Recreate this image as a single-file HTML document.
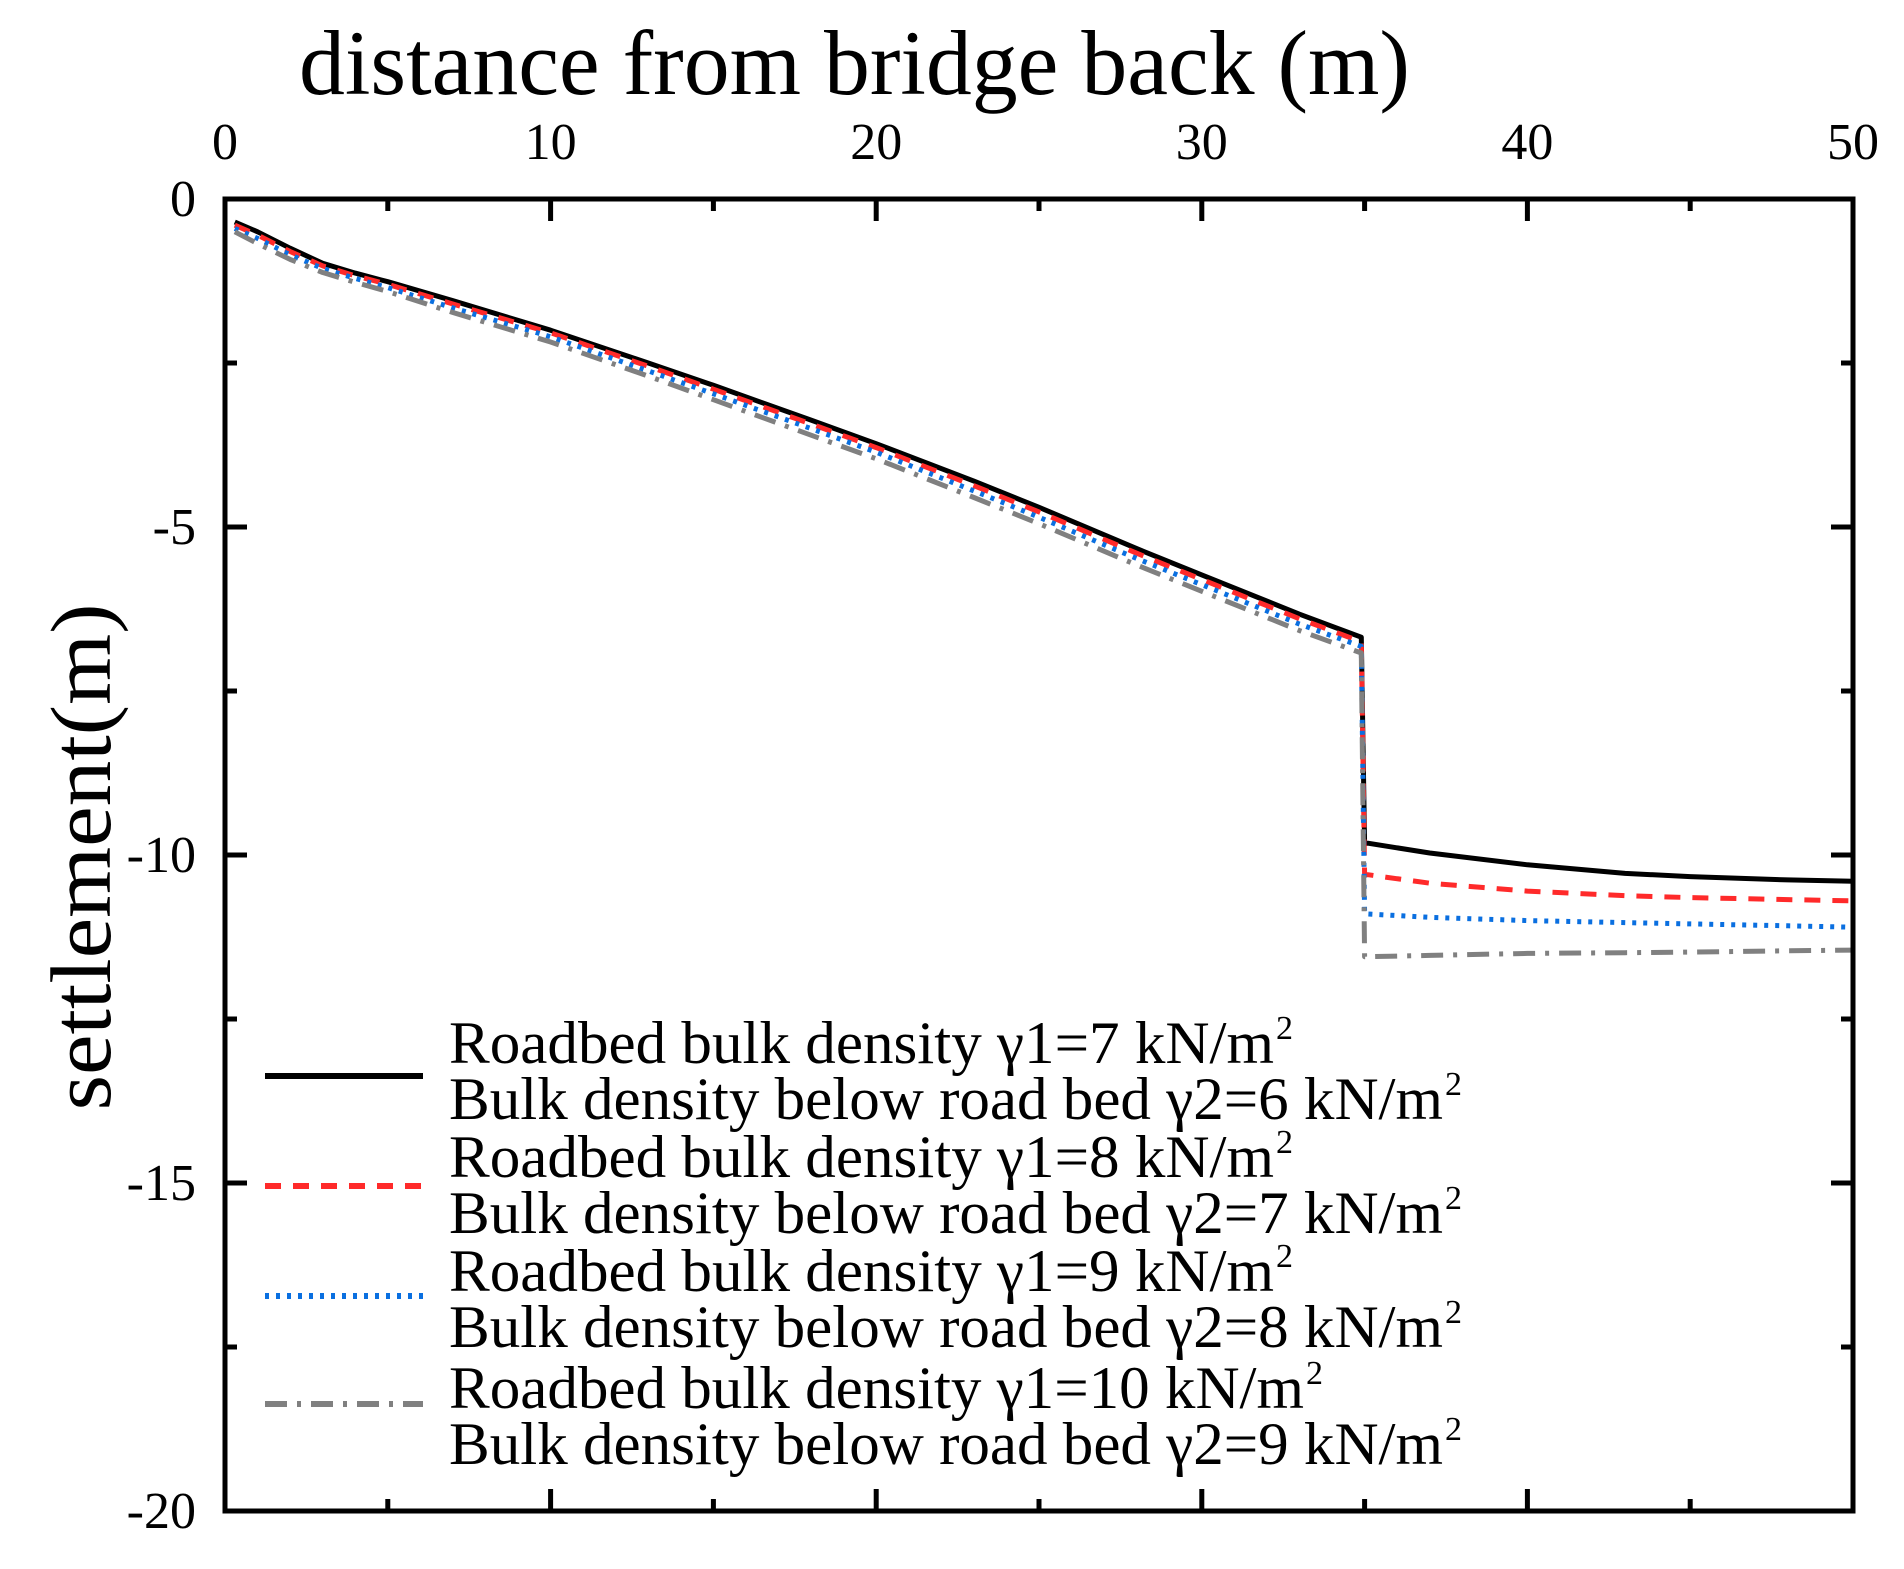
<!DOCTYPE html>
<html><head><meta charset="utf-8"><style>
html,body{margin:0;padding:0;background:#fff;}
svg{display:block;font-family:"Liberation Serif",serif;}
</style></head><body>
<svg id="chart" width="1904" height="1569" viewBox="0 0 1904 1569" xmlns="http://www.w3.org/2000/svg">
<text x="299" y="94" font-size="92" textLength="1111" lengthAdjust="spacingAndGlyphs">distance from bridge back (m)</text>
<text transform="translate(110,857) rotate(-90)" text-anchor="middle" font-size="86" textLength="507" lengthAdjust="spacingAndGlyphs">settlement(m)</text>
<g id="ticks"></g>
<g id="series"></g>
<rect x="225" y="199" width="1628" height="1312" fill="none" stroke="#000" stroke-width="5"/>
<g id="legend"></g>
</svg>
<script>
const xTicks=[0,10,20,30,40,50];
const yTicks=[0,-5,-10,-15,-20];
const xs=[0.3,1,2,3,4,5,7,10,13,15,18,20,23,25,28,30,33,34.9,35,35.1,37,40,43,45,48,50];
const s1=[-0.35,-0.5,-0.75,-0.98,-1.13,-1.26,-1.55,-2.0,-2.5,-2.84,-3.37,-3.73,-4.3,-4.7,-5.33,-5.73,-6.33,-6.68,-9.82,-9.82,-9.97,-10.15,-10.28,-10.33,-10.38,-10.4];
const s2=[-0.4,-0.55,-0.8,-1.02,-1.17,-1.3,-1.6,-2.04,-2.55,-2.9,-3.43,-3.79,-4.37,-4.77,-5.4,-5.8,-6.4,-6.75,-10.3,-10.3,-10.43,-10.55,-10.62,-10.65,-10.68,-10.7];
const s3=[-0.45,-0.6,-0.85,-1.06,-1.21,-1.35,-1.66,-2.1,-2.62,-2.97,-3.5,-3.86,-4.45,-4.85,-5.48,-5.88,-6.48,-6.82,-10.9,-10.9,-10.95,-11.0,-11.03,-11.05,-11.08,-11.1];
const s4=[-0.5,-0.68,-0.92,-1.12,-1.27,-1.41,-1.73,-2.18,-2.7,-3.06,-3.6,-3.96,-4.55,-4.95,-5.58,-5.98,-6.58,-6.92,-11.55,-11.55,-11.53,-11.5,-11.49,-11.48,-11.46,-11.45];
const seriesColors=["#000","#ff2a2a","#0a6fe0","#808080"];
const L=225,R=1853,T=199,B=1511;
const X=v=>L+(v-0)/(50-0)*(R-L);
const Y=v=>T+(0-v)/(0+20)*(B-T);
const NS="http://www.w3.org/2000/svg";
function mk(tag,attrs,parent){const e=document.createElementNS(NS,tag);for(const k in attrs)e.setAttribute(k,attrs[k]);parent.appendChild(e);return e;}
const tg=document.getElementById('ticks');
for(let v=0;v<=50;v+=5){
  const len=(v%10===0)?22:12;
  let e=mk('line',{x1:X(v),x2:X(v),y1:T,y2:T+len,stroke:'#000','stroke-width':5},tg);
  
  e=mk('line',{x1:X(v),x2:X(v),y1:B,y2:B-len,stroke:'#000','stroke-width':5},tg);
  
}
for(let v=0;v>=-20;v-=2.5){
  const len=(v%5===0)?22:12;
  let e=mk('line',{x1:L,x2:L+len,y1:Y(v),y2:Y(v),stroke:'#000','stroke-width':5},tg);
  
  e=mk('line',{x1:R,x2:R-len,y1:Y(v),y2:Y(v),stroke:'#000','stroke-width':5},tg);
  
}
xTicks.forEach(v=>{
  const t=mk('text',{x:X(v),y:159,'text-anchor':'middle','font-size':52},tg);
  
  t.textContent=String(v);
});
yTicks.forEach(v=>{
  const t=mk('text',{x:196,y:Y(v)+17,'text-anchor':'end','font-size':52},tg);
  
  t.textContent=String(v);
});
const dashes=["none","16 12","4 7","22 10 4 10"];
const widths=[5,5,5,5];
const sg=document.getElementById('series');
[s1,s2,s3,s4].forEach((s,i)=>{
  const d=xs.map((x,j)=>(j?'L':'M')+X(x).toFixed(1)+','+Y(s[j]).toFixed(1)).join(' ');
  const p=mk('path',{d:d,fill:'none',stroke:seriesColors[i],'stroke-width':widths[i],'stroke-dasharray':dashes[i],'stroke-linejoin':'round'},sg);
  
  
});
const legendLine1=["Roadbed bulk density γ1=7 kN/m","Roadbed bulk density γ1=8 kN/m","Roadbed bulk density γ1=9 kN/m","Roadbed bulk density γ1=10 kN/m"];
const legendLine2=["Bulk density below road bed γ2=6 kN/m","Bulk density below road bed γ2=7 kN/m","Bulk density below road bed γ2=8 kN/m","Bulk density below road bed γ2=9 kN/m"];
const lg=document.getElementById('legend');
const sampleY=[1076,1186,1296,1404];
const base1=[1063,1177,1291,1408];
const w1=[839,839,839,869];
for(let i=0;i<4;i++){
  const l=mk('line',{x1:265,x2:423,y1:sampleY[i],y2:sampleY[i],stroke:seriesColors[i],'stroke-width':6,'stroke-dasharray':dashes[i]},lg);
  
  const t1=mk('text',{x:449,y:base1[i],'font-size':60,textLength:w1[i]-14,lengthAdjust:'spacingAndGlyphs'},lg);
  
  t1.textContent=legendLine1[i];
  const s=mk('text',{x:449+w1[i]-12,y:base1[i]-24,'font-size':34},lg);
  
  s.textContent='2';
  const t2=mk('text',{x:449,y:base1[i]+56,'font-size':60,textLength:994,lengthAdjust:'spacingAndGlyphs'},lg);
  
  t2.textContent=legendLine2[i];
  const s2e=mk('text',{x:1445,y:base1[i]+32,'font-size':34},lg);
  
  s2e.textContent='2';
}
</script>
</body></html>
